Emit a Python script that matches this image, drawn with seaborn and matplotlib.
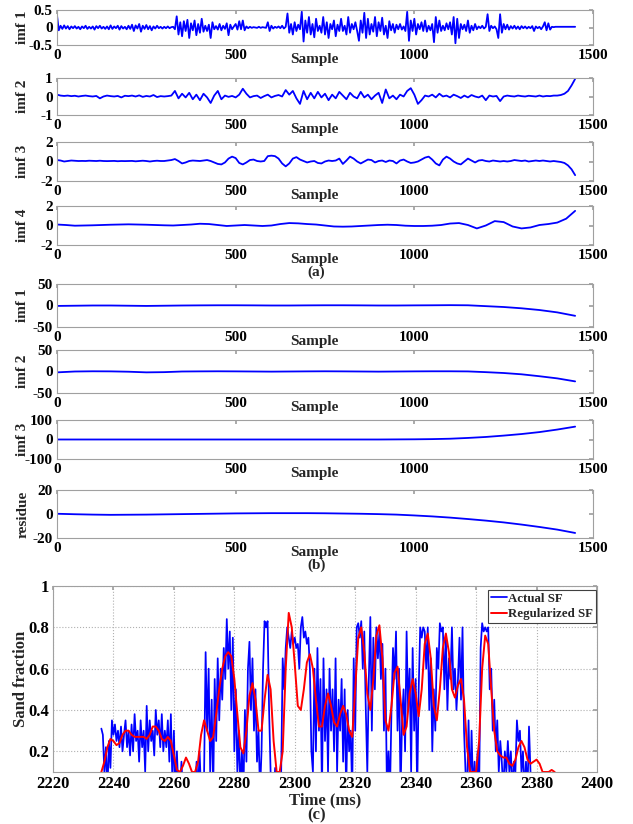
#!/usr/bin/env python3
"""
EMD decomposition panels (a), (b) and sand fraction comparison (c).
"""

import numpy as np
import matplotlib
matplotlib.use("Agg")
import matplotlib.pyplot as plt
import seaborn as sns

# ---- panel (a): imfs of the raw signal, one value every 5 / 10 / 25 samples ----
IMF1_A_STEP = 5
imf1_a = [
    0.35, -0.08, 0.05, -0.04, 0.06, -0.03, 0.04, -0.05, 0.03, -0.02,
    0.04, -0.03, 0.02, -0.05, 0.03, -0.02, 0.05, -0.04, 0.02, -0.03,
    0.03, -0.06, 0.04, -0.02, 0.05, -0.03, 0.02, -0.04, 0.03, -0.05,
    0.06, -0.04, 0.03, -0.02, 0.05, -0.06, 0.04, -0.03, 0.02, -0.05,
    0.05, -0.04, 0.08, -0.1, 0.06, -0.03, 0.1, -0.12, 0.05, -0.04,
    0.07, -0.05, 0.04, -0.08, 0.03, -0.03, 0.05, -0.02, 0.02, -0.03,
    0.02, -0.02, 0.03, -0.02, 0.01, 0.02, -0.05, 0.32, -0.2, 0.15,
    -0.25, 0.18, -0.1, 0.22, -0.3, 0.12, -0.08, 0.2, -0.22, 0.1,
    -0.15, 0.25, -0.12, 0.05, -0.1, 0.08, -0.3, 0.15, -0.05, 0.04,
    -0.06, 0.1, -0.08, 0.05, -0.04, 0.12, -0.22, 0.08, -0.05, 0.03,
    0.1, -0.06, 0.18, -0.05, 0.2, -0.08, 0.03, -0.02, 0.02, -0.01,
    0.01, 0.0, -0.01, 0.02, -0.01, 0.01, 0.0, -0.01, 0.15, -0.1,
    0.05, -0.03, 0.02, -0.01, 0.03, -0.02, 0.05, -0.03, 0.02, 0.4,
    -0.15, 0.1, -0.2, 0.15, -0.1, 0.08, -0.05, 0.45, -0.4, 0.2,
    -0.15, 0.3, -0.2, 0.1, -0.28, 0.25, -0.1, 0.05, -0.15, 0.3,
    -0.2, 0.15, -0.3, 0.1, -0.05, 0.2, -0.25, 0.08, -0.1, 0.25,
    -0.1, 0.05, -0.2, 0.3, -0.15, 0.1, -0.05, 0.15, -0.1, -0.38,
    0.2, -0.15, 0.42, -0.3, 0.25, -0.2, 0.1, -0.12, 0.3, -0.25,
    0.15, -0.1, 0.28, -0.2, 0.05, -0.3, 0.18, -0.08, 0.1, -0.15,
    0.08, -0.05, 0.1, -0.06, 0.03, -0.1, 0.45, -0.38, 0.2, -0.1,
    0.25, -0.2, 0.1, -0.05, 0.15, -0.1, 0.2, -0.12, 0.05, -0.08,
    0.1, -0.42, 0.3, -0.15, 0.2, -0.1, 0.05, -0.08, 0.12, -0.05,
    0.15, -0.2, 0.3, -0.45, 0.25, -0.3, 0.1, -0.05, 0.08, -0.1,
    0.2, -0.15, 0.05, -0.08, 0.1, -0.05, 0.03, -0.02, 0.05, -0.03,
    0.02, 0.38, -0.1, 0.05, -0.02, 0.03, -0.05, -0.3, 0.38, -0.15,
    0.1, -0.05, 0.08, -0.06, 0.04, -0.03, 0.05, -0.04, 0.03, -0.05,
    0.04, -0.02, 0.03, -0.03, 0.02, -0.02, 0.04, -0.1, 0.03, -0.02,
    0.02, -0.05, 0.03, 0.15, -0.08, 0.12, -0.06, 0.02, 0.01, 0.02,
    0.02, 0.02, 0.02, 0.02, 0.02, 0.02, 0.02, 0.02, 0.02, 0.02, 0.02,
]

IMF2_A_STEP = 10
imf2_a = [
    0.1, 0.05, 0.03, 0.05, 0.02, 0.04, 0.0, 0.03, 0.05, 0.02,
    0.0, 0.03, -0.1, 0.0, 0.05, 0.02, 0.0, 0.03, -0.05, 0.04,
    0.02, 0.05, 0.0, 0.06, -0.02, 0.03, 0.0, 0.08, -0.03, 0.02,
    0.0, 0.02, 0.05, 0.3, -0.1, 0.15, -0.05, 0.2, -0.15, 0.1,
    -0.2, 0.15, -0.05, -0.35, 0.05, 0.3, -0.15, 0.05, -0.02, 0.03,
    -0.05, 0.1, 0.42, 0.15, -0.05, 0.02, 0.05, -0.08, 0.02, 0.1,
    -0.05, 0.03, 0.08, 0.0, 0.35, 0.1, 0.3, -0.1, -0.4, 0.3,
    -0.15, 0.2, -0.1, 0.25, -0.05, 0.15, -0.2, 0.1, -0.1, 0.25,
    0.05, -0.15, 0.2, 0.0, -0.1, 0.25, -0.05, 0.1, -0.15, 0.05,
    0.2, -0.35, 0.38, -0.1, 0.05, -0.15, 0.1, 0.0, 0.3, 0.45,
    0.1, -0.4, -0.2, 0.05, 0.0, 0.1, -0.05, 0.15, 0.0, 0.05,
    -0.05, 0.1, 0.02, -0.08, 0.05, -0.05, 0.08, 0.0, -0.05, 0.05,
    -0.2, 0.05, 0.0, 0.03, -0.25, 0.0, 0.05, 0.02, 0.0, 0.05,
    0.02, 0.0, 0.04, 0.02, 0.0, 0.05, 0.0, 0.03, 0.02, 0.05,
    0.05, 0.08, 0.15, 0.3, 0.6, 0.95,
]

IMF3_A_STEP = 10
imf3_a = [
    0.15, 0.1, 0.0, 0.05, 0.1, 0.08, 0.05, 0.06, 0.05, 0.08,
    0.06, 0.05, 0.08, 0.05, 0.04, 0.05, 0.06, 0.03, 0.05, 0.04,
    0.05, 0.06, 0.02, 0.05, 0.08, 0.05, 0.0, 0.05, 0.08, 0.05,
    0.05, 0.1, 0.15, 0.25, 0.05, -0.2, -0.1, 0.05, 0.1, 0.08,
    0.05, 0.1, 0.15, 0.05, -0.1, -0.25, -0.3, -0.1, 0.3, 0.5,
    0.35, -0.15, -0.3, -0.1, 0.15, 0.2, 0.05, 0.0, 0.05, 0.55,
    0.6, 0.55, 0.3, -0.2, -0.5, -0.2, 0.3, 0.45, 0.2, 0.05,
    -0.1, 0.0, 0.05, -0.15, -0.2, 0.0, 0.1, 0.05, 0.1, 0.3,
    -0.25, 0.1, 0.5, 0.3, 0.0, -0.2, 0.0, 0.2, 0.15, -0.1,
    0.05, 0.1, -0.05, 0.1, 0.05, -0.2, 0.1, 0.2, 0.0, -0.15,
    -0.1, 0.0, 0.2, 0.4, 0.5, 0.2, -0.2, -0.4, 0.2, 0.5,
    0.3, 0.0, -0.2, -0.3, 0.0, 0.3, 0.1, -0.1, 0.1, 0.15,
    0.05, 0.0, 0.1, 0.05, 0.0, 0.05, 0.0, 0.05, 0.15, 0.1,
    0.05, 0.1, 0.0, 0.05, 0.1, 0.05, 0.1, 0.05, 0.0, 0.05,
    0.0, -0.05, -0.15, -0.4, -0.8, -1.4,
]

IMF4_A_STEP = 25
imf4_a = [
    0.1, 0.05, -0.02, 0.0, 0.02, 0.05, 0.08, 0.1, 0.12, 0.1,
    0.08, 0.05, 0.02, 0.0, 0.05, 0.1, 0.18, 0.15, 0.05, -0.05,
    0.0, 0.05, 0.0, -0.05, 0.0, 0.15, 0.25, 0.22, 0.15, 0.1,
    0.0, -0.1, -0.12, -0.1, -0.05, 0.0, 0.05, 0.08, 0.05, -0.02,
    -0.05, -0.05, -0.02, 0.05, 0.2, 0.25, 0.05, -0.3, 0.0, 0.45,
    0.35, -0.1, -0.3, -0.2, 0.05, 0.15, 0.3, 0.7, 1.5,
]

# ---- panel (b): imfs of the trend, one value every 50 samples ----
B_STEP = 50
imf1_b = [-1, -0.5, 0, 0, -0.5, -1, -0.5, 0, 0.3, 0.5,
          0.5, 0.3, 0, 0, 0.3, 0.5, 0.5, 0.3, 0, 0,
          0.3, 0.5, 0.8, 0.5, -1.5, -3.5, -6.5, -10.5, -16, -24]
imf2_b = [-2, 0, 0.5, 0.3, -0.5, -2, -1.5, 0, 0.3, 0.5,
          0.3, 0, -0.3, 0, 0.3, 0.5, 0.3, 0, -0.3, 0,
          0.3, 0.5, 0.5, 0.2, -1.5, -3.5, -6.5, -11, -16, -23]
imf3_b = [0, 0, 0, 0, 0, 0, 0, 0, 0, 0,
          0, 0, 0, 0, 0, 0, 0, 0, 0, 0.5,
          1, 2, 4, 8, 13, 20, 28, 38, 51, 66]
residue_b = [0.2, -0.2, -0.5, -0.7, -0.6, -0.5, -0.3, -0.1, 0.1, 0.3,
             0.5, 0.6, 0.7, 0.7, 0.7, 0.6, 0.4, 0.2, -0.1, -0.5,
             -1.2, -2, -3, -4.2, -5.5, -7, -8.8, -10.8, -13, -15.8]

# ---- panel (c): sand fraction ----
ACTUAL_T0, ACTUAL_DT = 2236.0, 0.5
actual_sf = [
    0.31, 0.28, 0.1, 0.22, 0.0, 0.25, 0.12, 0.35, 0.28, 0.33,
    0.25, 0.3, 0.22, 0.32, 0.2, 0.28, 0.35, 0.22, 0.3, 0.18,
    0.33, 0.2, 0.38, 0.25, 0.3, 0.15, 0.35, 0.22, 0.3, 0.1,
    0.42, 0.2, 0.35, 0.25, 0.3, 0.18, 0.4, 0.28, 0.35, 0.22,
    0.38, 0.2, 0.3, 0.22, 0.35, 0.15, 0.38, 0.05, 0.3, 0.0,
    0.2, 0.0, 0.0, 0.15, 0.0, 0.0, 0.0, 0.0, 0.0, 0.0,
    0.0, 0.0, 0.0, 0.15, 0.0, 0.2, 0.0, 0.0, 0.1, 0.68,
    0.3, 0.6, 0.1, 0.45, 0.0, 0.55, 0.25, 0.65, 0.35, 0.6,
    0.45, 0.7, 0.55, 0.84, 0.6, 0.78, 0.4, 0.75, 0.2, 0.5,
    0.1, 0.3, 0.0, 0.2, 0.0, 0.4, 0.15, 0.6, 0.73, 0.4,
    0.65, 0.3, 0.5, 0.15, 0.3, 0.0, 0.2, 0.6, 0.83, 0.8,
    0.83, 0.4, 0.1, 0.0, 0.0, 0.12, 0.0, 0.0, 0.0, 0.1,
    0.65, 0.5, 0.7, 0.8, 0.75, 0.7, 0.78, 0.72, 0.75, 0.7,
    0.72, 0.6, 0.8, 0.85, 0.75, 0.78, 0.72, 0.75, 0.6, 0.2,
    0.1, 0.6, 0.2, 0.7, 0.3, 0.55, 0.0, 0.65, 0.25, 0.5,
    0.1, 0.6, 0.3, 0.5, 0.2, 0.65, 0.1, 0.45, 0.3, 0.55,
    0.15, 0.5, 0.0, 0.4, 0.2, 0.3, 0.0, 0.65, 0.3, 0.8,
    0.82, 0.75, 0.83, 0.6, 0.78, 0.4, 0.1, 0.55, 0.85, 0.3,
    0.75, 0.5, 0.8, 0.65, 0.78, 0.55, 0.72, 0.3, 0.6, 0.0,
    0.2, 0.0, 0.4, 0.7, 0.55, 0.78, 0.3, 0.6, 0.0, 0.35,
    0.5, 0.2, 0.78, 0.4, 0.6, 0.1, 0.7, 0.3, 0.55, 0.0,
    0.5, 0.8, 0.75, 0.8, 0.78, 0.6, 0.8, 0.4, 0.65, 0.2,
    0.5, 0.3, 0.7, 0.6, 0.82, 0.78, 0.8, 0.5, 0.75, 0.4,
    0.65, 0.55, 0.8, 0.5, 0.6, 0.4, 0.55, 0.75, 0.45, 0.8,
    0.3, 0.1, 0.0, 0.35, 0.0, 0.3, 0.0, 0.15, 0.0, 0.2,
    0.0, 0.7, 0.82, 0.78, 0.8, 0.78, 0.8, 0.5, 0.6, 0.3,
    0.45, 0.2, 0.35, 0.1, 0.25, 0.15, 0.0, 0.2, 0.1, 0.25,
    0.1, 0.2, 0.0, 0.15, 0.1, 0.35, 0.25, 0.3, 0.1, 0.2,
    0.0, 0.15, 0.0, 0.32, 0.1, 0.0, 0.0, 0.0, 0.0, 0.0,
    0.0, 0.0, 0.0, 0.0, 0.0, 0.0, 0.0, 0.0, 0.0, 0.0,
    0.0,
]

REG_T0, REG_DT = 2236.0, 1.0
regularized_sf = [
    0.1, 0.15, 0.22, 0.26, 0.25, 0.23, 0.24, 0.28, 0.3, 0.3,
    0.28, 0.27, 0.27, 0.27, 0.27, 0.26, 0.28, 0.32, 0.32, 0.3,
    0.26, 0.25, 0.27, 0.25, 0.18, 0.11, 0.1, 0.13, 0.17, 0.14,
    0.1, 0.1, 0.15, 0.28, 0.35, 0.3, 0.25, 0.27, 0.38, 0.5,
    0.6, 0.66, 0.68, 0.66, 0.55, 0.38, 0.22, 0.19, 0.3, 0.47,
    0.53, 0.45, 0.3, 0.3, 0.45, 0.57, 0.5, 0.25, 0.1, 0.1,
    0.2, 0.6, 0.87, 0.8, 0.62, 0.42, 0.4, 0.5, 0.63, 0.67,
    0.6, 0.45, 0.32, 0.32, 0.42, 0.48, 0.42, 0.34, 0.32, 0.38,
    0.42, 0.38, 0.3, 0.27, 0.5, 0.75, 0.8, 0.68, 0.48, 0.4,
    0.55, 0.76, 0.81, 0.65, 0.35, 0.3, 0.42, 0.58, 0.61, 0.45,
    0.28, 0.32, 0.48, 0.55, 0.48, 0.37, 0.5, 0.72, 0.77, 0.65,
    0.42, 0.35, 0.5, 0.7, 0.77, 0.68, 0.5, 0.46, 0.52, 0.55,
    0.45, 0.22, 0.1, 0.1, 0.1, 0.25, 0.6, 0.76, 0.72, 0.5,
    0.3, 0.2, 0.18, 0.17, 0.17, 0.14, 0.13, 0.16, 0.22, 0.25,
    0.22, 0.16, 0.14, 0.15, 0.16, 0.14, 0.1, 0.1, 0.1, 0.11,
    0.1,
]

FIG_W, FIG_H = 633, 824
GRAY = "#a0a0a0"
TICK_FS = 11


def px_axes(fig, left, top, right, bottom):
    """Add axes given pixel edges (from the top-left corner)."""
    return fig.add_axes([left / FIG_W, 1 - bottom / FIG_H,
                         (right - left) / FIG_W, (bottom - top) / FIG_H])


def style_axes(ax):
    for s in ax.spines.values():
        s.set_color(GRAY)
        s.set_linewidth(0.8)
    ax.tick_params(direction="in", top=True, right=True, length=3,
                   color=GRAY, labelsize=TICK_FS, pad=3, labelcolor="black")
    for lab in ax.get_xticklabels() + ax.get_yticklabels():
        lab.set_fontweight("bold")


def imf_panel(fig, top, bottom, values, step, lim, label):
    ax = px_axes(fig, 57, top, 593, bottom)
    samples = np.arange(len(values)) * step
    sns.lineplot(x=samples, y=values, ax=ax, color="#0000ff",
                 linewidth=1.3, estimator=None)
    ax.set_xlim(0, 1500)
    ax.set_ylim(-lim, lim)
    ax.set_xticks([0, 500, 1000, 1500])
    ax.set_yticks([-lim, 0, lim])
    ax.set_yticklabels([f"{-lim:g}", "0", f"{lim:g}"])
    height = bottom - top
    style_axes(ax)
    ax.set_xlabel("Sample", fontsize=TICK_FS, fontweight="bold")
    ax.xaxis.set_label_coords(0.48, -8 / height)
    ax.set_ylabel(label, fontsize=TICK_FS, fontweight="bold")
    ax.yaxis.set_label_coords(-0.052, 0.5)
    return ax


def main():
    sns.set_theme(style="white")
    plt.rcParams["font.family"] = ["Liberation Serif", "DejaVu Serif"]
    plt.rcParams["font.weight"] = "bold"

    fig = plt.figure(figsize=(FIG_W / 100, FIG_H / 100), dpi=100)

    # panel (a)
    imf_panel(fig, 10, 45, imf1_a, IMF1_A_STEP, 0.5, "imf 1")
    imf_panel(fig, 78, 115, imf2_a, IMF2_A_STEP, 1, "imf 2")
    imf_panel(fig, 142, 181, imf3_a, IMF3_A_STEP, 2, "imf 3")
    imf_panel(fig, 206, 245, imf4_a, IMF4_A_STEP, 2, "imf 4")
    fig.text(0.5, 1 - 272 / FIG_H, "(a)", ha="center", va="center",
             fontsize=TICK_FS, fontweight="bold")

    # panel (b)
    imf_panel(fig, 284, 327, imf1_b, B_STEP, 50, "imf 1")
    imf_panel(fig, 350, 393, imf2_b, B_STEP, 50, "imf 2")
    imf_panel(fig, 420, 459, imf3_b, B_STEP, 100, "imf 3")
    imf_panel(fig, 490, 538, residue_b, B_STEP, 20, "residue")
    fig.text(0.5, 1 - 565 / FIG_H, "(b)", ha="center", va="center",
             fontsize=TICK_FS, fontweight="bold")

    # panel (c)
    ax = px_axes(fig, 53, 586, 597, 772)
    t_act = ACTUAL_T0 + np.arange(len(actual_sf)) * ACTUAL_DT
    t_reg = REG_T0 + np.arange(len(regularized_sf)) * REG_DT
    sns.lineplot(x=t_act, y=actual_sf, ax=ax, color="#0000ff",
                 linewidth=1.25, estimator=None, label="Actual SF")
    sns.lineplot(x=t_reg, y=regularized_sf, ax=ax, color="#ff0000",
                 linewidth=1.4, estimator=None, label="Regularized SF")
    ax.set_xlim(2220, 2400)
    ax.set_ylim(0.1, 1)
    ax.set_xticks(np.arange(2220, 2401, 20))
    ax.set_yticks([0.2, 0.4, 0.6, 0.8, 1.0])
    ax.set_yticklabels(["0.2", "0.4", "0.6", "0.8", "1"])
    ax.grid(True, linestyle=":", color="#b0b0b0", linewidth=0.8)
    style_axes(ax)
    ax.tick_params(labelsize=12)
    ax.set_xlabel("Time (ms)", fontsize=12, fontweight="bold", labelpad=0)
    ax.set_ylabel("Sand fraction", fontsize=12, fontweight="bold")
    ax.yaxis.set_label_coords(-0.045, 0.5)
    leg = ax.legend(loc="upper right", bbox_to_anchor=(0.998, 0.98),
                    borderaxespad=0, handlelength=1.2, handletextpad=0.1,
                    borderpad=0.25, labelspacing=0.25, fancybox=False,
                    framealpha=1, prop={"weight": "bold", "size": 9.3})
    leg.get_frame().set_edgecolor("#404040")
    leg.get_frame().set_linewidth(0.8)
    fig.text(0.5, 1 - 815 / FIG_H, "(c)", ha="center", va="center",
             fontsize=12, fontweight="bold")

    fig.savefig("out.png", dpi=100)
    plt.close(fig)


if __name__ == "__main__":
    main()
